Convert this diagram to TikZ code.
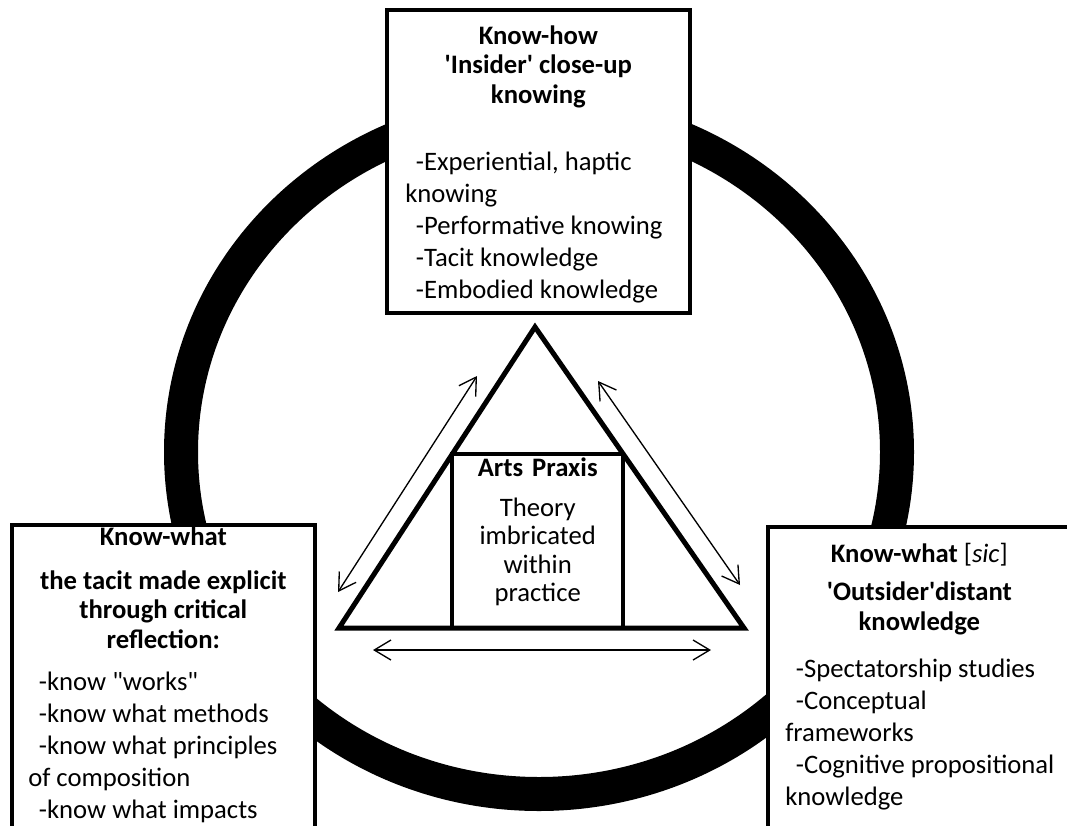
\documentclass[tikz,border=0pt]{standalone}
\usepackage{fontspec}
\setmainfont{Carlito}
\usetikzlibrary{positioning,calc,fit,arrows.meta}
\newcommand{\knind}{\hspace*{8pt}}

\tikzset{
  ring/.style={line width=25.5pt},
  kbox/.style={draw,line width=3pt,fill=white,outer sep=0pt,inner sep=0pt,
    minimum width=227pt,anchor=north west},
  head/.style={font=\fontsize{20}{22}\selectfont\bfseries,align=center,inner sep=0pt},
  body/.style={font=\fontsize{20}{24}\selectfont,align=left,inner sep=0pt},
  tri/.style={line width=3.75pt,line join=miter},
  link/.style={<->,>={Straight Barb[length=12.5pt,width=15pt]},line width=1pt}
}

\begin{document}
\begin{tikzpicture}[x=0.75pt,y=-0.75pt]
  \useasboundingbox (0,0) rectangle (1067,825);
  \clip (0,0) rectangle (1067,825);

  \draw[ring] (539,452) ellipse [x radius=358, y radius=342];

  % the three ways of knowing (base = last line of each text)
  \node[kbox,minimum height=227pt] (how) at (387,10) {};
  \node[head,below=69.75pt of how.north,anchor=base] (howh)
    {Know-how\\\textquotesingle Insider\textquotesingle{} close-up\\knowing};
  \node[body,below right=216pt and 13.5pt of how.north west,anchor=base west] (howb)
    {\knind-Experiential, haptic\\knowing\\\knind-Performative knowing\\
     \knind-Tacit knowledge\\\knind-Embodied knowledge};

  \node[kbox,minimum height=300pt] (what) at (12,525) {};
  \node[head,below=92.25pt of what.north,anchor=base] (whath)
    {Know-what\\[11pt]the tacit made explicit\\through critical\\reflection:};
  \node[body,below right=219.75pt and 12pt of what.north west,anchor=base west] (whatb)
    {\knind-know \textquotedbl works\textquotedbl\\\knind-know what methods\\
     \knind-know what principles\\of composition\\\knind-know what impacts};

  \node[kbox,minimum height=300pt] (sic) at (768,527) {};
  \node[head,below=77.25pt of sic.north,anchor=base] (sich)
    {Know-what {\mdseries[\textit{sic}]}\\[7pt]\textquotesingle Outsider\textquotesingle distant\\knowledge};
  \node[body,below right=208.5pt and 12.75pt of sic.north west,anchor=base west] (sicb)
    {\knind-Spectatorship studies\\\knind-Conceptual\\frameworks\\
     \knind-Cognitive propositional\\knowledge};

  % praxis triangle
  \coordinate (apex) at (535,327);
  \coordinate (bl) at (339,628);
  \coordinate (br) at (744,628);
  \coordinate (pl) at ($(apex)!0.422!(bl)$);
  \coordinate (pr) at ($(apex)!0.422!(br)$);
  \draw[tri] (apex) -- (bl) -- (br) -- cycle;
  \node[draw,line width=3.2pt,inner sep=0pt,outer sep=0pt,fit={(pl) (pr|-bl)},
    align=center,font=\fontsize{20}{21.4}\selectfont] (praxis)
    {\textbf{Arts Praxis}\\[8.6pt]Theory\\imbricated\\within\\practice};

  \coordinate (la1) at (338,592);
  \coordinate (la2) at (477,376);
  \coordinate (ra1) at (598,381);
  \coordinate (ra2) at (740,585);
  \coordinate (ba1) at (373,650);
  \coordinate (ba2) at (711,650);
  \path[link]
  (la1) edge (la2)
  (ra1) edge (ra2)
  (ba1) edge (ba2);
\end{tikzpicture}
\end{document}
